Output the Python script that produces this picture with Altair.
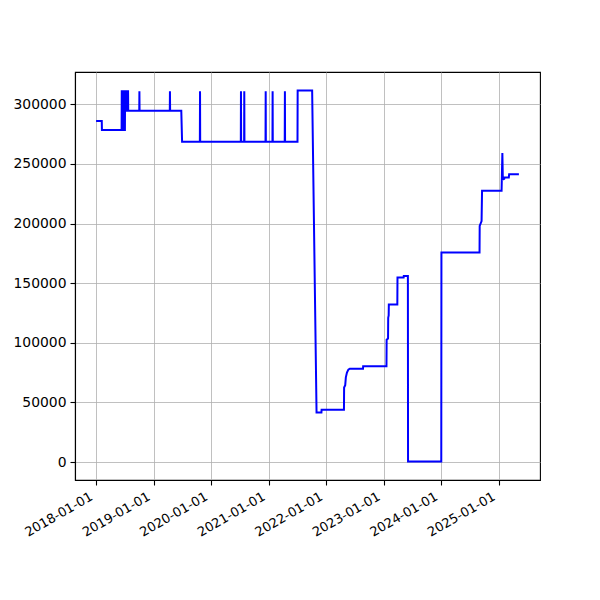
import altair as alt
import pandas as pd

dates = [
    "2018-01-01", "2018-02-06", "2018-02-07", "2018-06-12", "2018-06-13",
    "2018-06-16", "2018-06-17", "2018-06-19", "2018-06-20", "2018-06-23",
    "2018-06-24", "2018-06-26", "2018-06-27", "2018-06-30", "2018-07-01",
    "2018-07-03", "2018-07-04", "2018-07-07", "2018-07-08", "2018-07-10",
    "2018-07-11", "2018-07-14", "2018-07-15", "2018-07-17", "2018-07-18",
    "2018-07-23", "2018-07-24",
    "2018-10-02", "2018-10-03", "2018-10-04",
    "2019-04-14", "2019-04-15", "2019-04-16",
    "2019-06-26", "2019-07-01",
    "2019-10-22", "2019-10-23", "2019-10-24",
    "2020-07-08", "2020-07-09", "2020-07-10",
    "2020-07-29", "2020-07-30", "2020-07-31",
    "2020-12-12", "2020-12-13", "2020-12-14",
    "2021-01-25", "2021-01-26", "2021-01-27",
    "2021-04-13", "2021-04-14", "2021-04-15",
    "2021-07-03", "2021-07-04", "2021-10-04", "2021-11-01",
    "2021-12-02", "2021-12-03", "2022-04-24", "2022-04-25",
    "2022-05-02", "2022-05-06", "2022-05-13", "2022-05-22", "2022-05-31",
    "2022-08-23", "2022-08-24", "2023-01-19", "2023-01-20", "2023-01-29",
    "2023-01-30", "2023-02-02", "2023-02-03", "2023-03-29", "2023-03-30",
    "2023-05-08", "2023-05-09", "2023-06-04", "2023-06-05", "2024-01-02",
    "2024-01-03", "2024-09-01", "2024-09-02", "2024-09-14", "2024-09-17",
    "2025-01-19", "2025-01-24", "2025-01-27", "2025-02-05", "2025-02-07",
    "2025-03-06", "2025-03-08", "2025-05-09",
]
values = [
    286000, 286000, 278500, 278500, 311000,
    311000, 278500, 278500, 311000, 311000,
    278500, 278500, 311000, 311000, 278500,
    278500, 311000, 311000, 294500, 294500,
    311000, 311000, 294500, 294500, 311000,
    311000, 294500,
    294500, 311000, 294500,
    294500, 311000, 294500,
    294500, 268500,
    268500, 311000, 268500,
    268500, 311000, 268500,
    268500, 311000, 268500,
    268500, 311000, 268500,
    268500, 311000, 268500,
    268500, 311000, 268500,
    268500, 311500, 311500, 41500,
    41500, 43800, 43800, 62500,
    64500, 71000, 75000, 77500, 78300,
    78300, 80300, 80300, 102500, 103500,
    121000, 123000, 132000, 132000, 154800,
    154800, 156100, 156100, 500, 500,
    175800, 175800, 198000, 202000, 227400,
    227400, 259200, 237000, 237500, 238600,
    238600, 241300, 241300,
]

tick_years = list(range(2018, 2026))
y_ticks = [0, 50000, 100000, 150000, 200000, 250000, 300000]

df = pd.DataFrame({"date": dates, "value": values})

font = "DejaVu Sans"

chart = (
    alt.Chart(df)
    .mark_line(color="#0000ff", strokeWidth=2)
    .encode(
        x=alt.X(
            "date:T",
            scale=alt.Scale(
                type="utc",
                domain=[
                    alt.DateTime(year=2017, month=8, date=20, utc=True),
                    alt.DateTime(year=2025, month=9, date=20, utc=True),
                ],
            ),
            axis=alt.Axis(
                values=[alt.DateTime(year=y, month=1, date=1, utc=True) for y in tick_years],
                labelExpr="utcFormat(datum.value, '%Y-%m-%d')",
                labelAngle=-30,
                labelAlign="right",
                labelBaseline="top",
                labelOffset=-8,
                labelPadding=5,
                labelFontSize=13,
                title=None,
            ),
        ),
        y=alt.Y(
            "value:Q",
            scale=alt.Scale(domain=[-15050, 327050], nice=False, zero=False),
            axis=alt.Axis(values=y_ticks, format="d", title=None, labelPadding=4),
        ),
    )
    .properties(
        width=465,
        height=408,
        autosize=alt.AutoSizeParams(type="none"),
        padding={"left": 67, "top": 64, "right": 52, "bottom": 112},
        background="white",
    )
    .configure_view(stroke="black", strokeWidth=1.1)
    .configure_axis(
        grid=True,
        gridColor="#b0b0b0",
        gridWidth=0.8,
        domainColor="black",
        domainWidth=1.1,
        tickColor="black",
        tickWidth=1.1,
        tickSize=5,
        labelFont=font,
        labelFontSize=13.9,
        labelColor="black",
        labelOverlap=False,
        labelFlush=False,
    )
)

chart.save("out.html", embed_options={"renderer": "svg", "actions": False})
